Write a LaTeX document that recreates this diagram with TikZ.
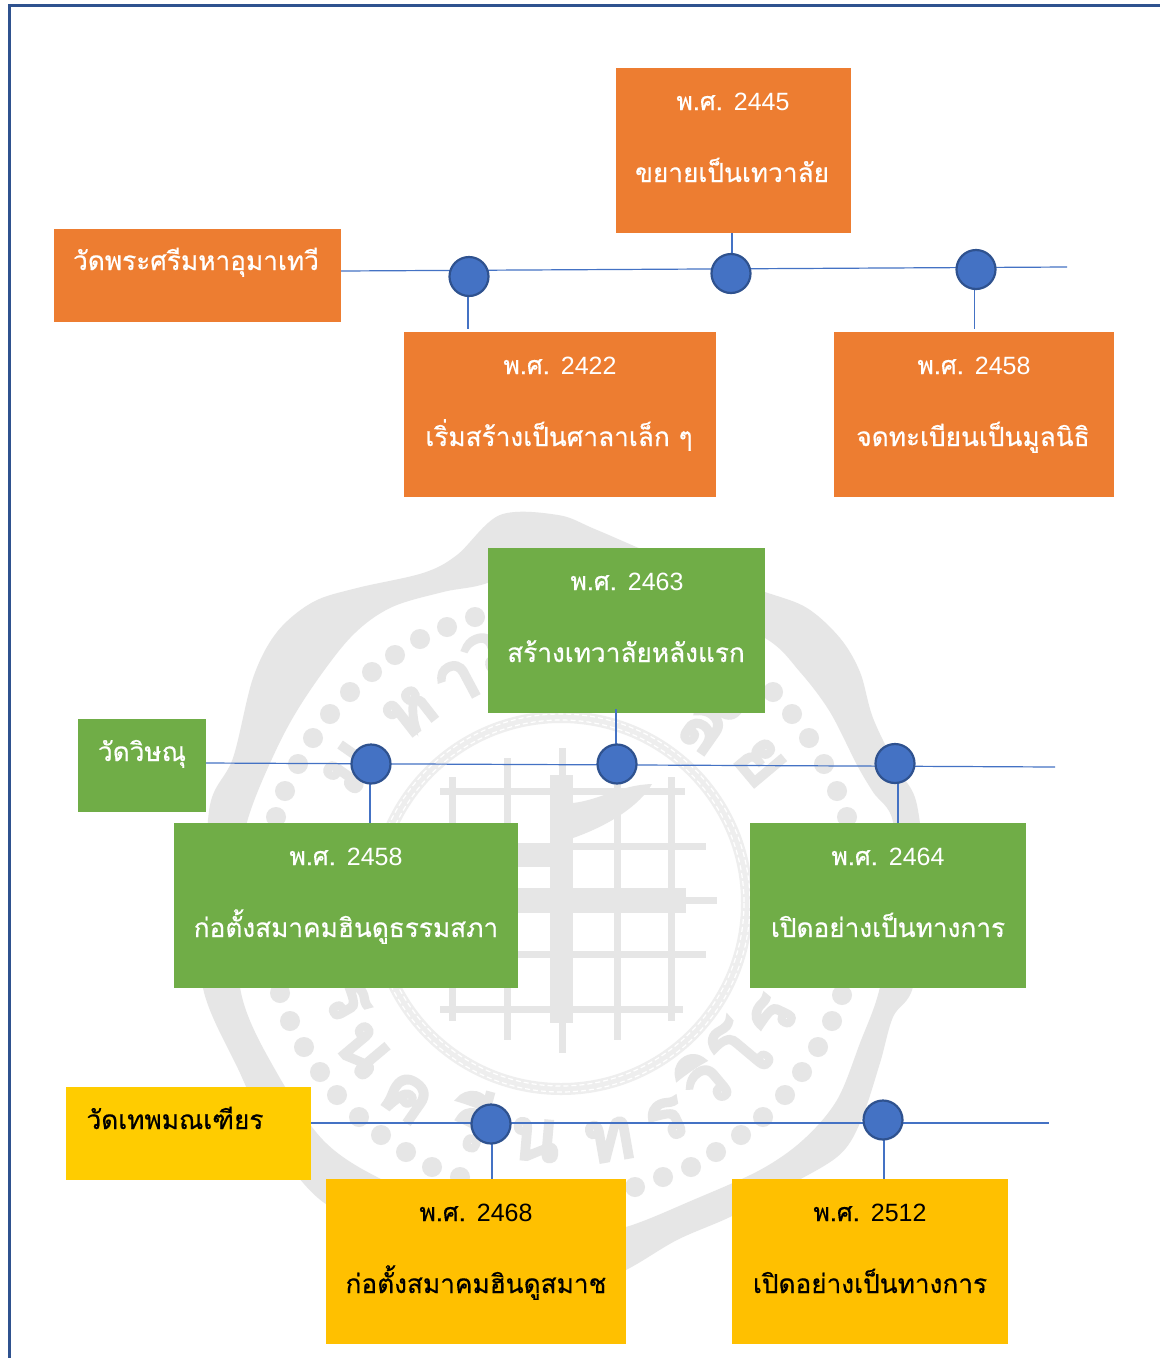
\documentclass[tikz,border=0pt]{standalone}
\usepackage{fontspec}
\setmainfont[Script=Thai,FakeBold=0.5]{Loma}
\newfontfamily\sealfont[Script=Thai,FakeBold=6]{Loma}
\newfontfamily\latn{Liberation Sans}
\newcommand{\yr}[1]{พ.ศ. {\latn #1}}
\pgfdeclarelayer{wm}
\pgfdeclarelayer{front}
\pgfsetlayers{wm,main,front}
\definecolor{orangeF}{HTML}{ED7D31}
\definecolor{greenF}{HTML}{70AD47}
\definecolor{yellowA}{HTML}{FFCC00}
\definecolor{yellowB}{HTML}{FFC000}
\definecolor{blueF}{HTML}{4472C4}
\definecolor{blueD}{HTML}{2F528F}
\definecolor{wmark}{HTML}{E6E6E6}
\definecolor{wrope}{HTML}{EEEEEE}
\tikzset{
  boxbase/.style={rectangle,inner sep=0pt,outer sep=0pt},
  orbox/.style={boxbase,fill=orangeF},
  grbox/.style={boxbase,fill=greenF},
  yabox/.style={boxbase,fill=yellowA},
  ybbox/.style={boxbase,fill=yellowB},
  dotnode/.style={circle,fill=blueF,draw=blueD,line width=2.2pt,minimum size=39pt,inner sep=0pt,outer sep=0pt},
  conn/.style={draw=blueF,line width=1.2pt},
  wtxt/.style={text=white,font=\fontsize{26.2}{28}\selectfont,inner sep=0pt,anchor=base},
  ktxt/.style={text=black,font=\fontsize{26.2}{28}\selectfont,inner sep=0pt,anchor=base},
  wyear/.style={text=white,font=\fontsize{25}{28}\selectfont,inner sep=0pt,anchor=base},
  kyear/.style={text=black,font=\fontsize{25}{28}\selectfont,inner sep=0pt,anchor=base},
  seal/.style={text=wmark,font=\fontsize{70}{70}\selectfont\sealfont,inner sep=0pt},
  frameline/.style={draw=blueD,line width=3pt}
}
\begin{document}
\begin{tikzpicture}[x=1pt,y=-1pt]
\useasboundingbox (0,0) rectangle (1160,1358);
\begin{pgfonlayer}{wm}
\fill[white] (0,0) rectangle (1160,1358);
% outer scalloped band
\fill[wmark,even odd rule]
  plot[smooth cycle,tension=0.55] coordinates {(500,515) (558,515) (597,530) (680,565) (765,592) (807,608) (840,638) (860,672) (873,718) (897,768) (917,805) (925,900) (913,987) (893,1017) (880,1063) (860,1123) (837,1157) (780,1190) (730,1217) (677,1240) (626,1270) (560,1300) (480,1280) (400,1235) (323,1202) (272,1140) (240,1073) (203,988) (205,900) (210,805) (233,758) (253,678) (277,632) (313,602) (357,588) (423,573) (457,555)}
  plot[smooth cycle,tension=0.55] coordinates {(555,548) (490,582) (443,592) (390,608) (350,638) (307,695) (277,748) (247,822) (235,900) (242,997) (277,1073) (323,1140) (377,1177) (450,1205) (560,1240) (626,1227) (693,1200) (760,1170) (803,1140) (837,1100) (860,1043) (880,987) (893,900) (893,822) (873,792) (857,765) (830,712) (800,672) (765,638) (680,600) (620,575)};
% ring of dots
\foreach \px/\py in {475/617,447/627,420/639,395/655,372/672,350/692,330/714,313/738,298/764,285/791,276/817,773/692,792/714,809/738,824/764,837/791,847/817,280/993,290/1021,304/1047,320/1072,337/1095,359/1117,381/1135,406/1152,432/1167,460/1177,842/995,832/1021,818/1047,802/1072,785/1095,763/1117,741/1135,716/1152,691/1167,663/1177,635/1187}
  \fill[wmark] (\px,\py) circle[radius=10];
% rope ring
\draw[wrope,line width=12pt] (561,903) circle[radius=186];
\draw[white,line width=1.2pt,dash pattern=on 5pt off 3pt] (561,903) circle[radius=183];
\draw[white,line width=1.2pt,dash pattern=on 5pt off 3pt] (561,903) circle[radius=189];
% grid of the emblem
\foreach \gx/\gt/\gb in {452/777/1021,507/758/1040,562/748/1053,617/758/1040,671/777/1021}
  \draw[wmark,line width=7pt] (\gx,\gt) -- (\gx,\gb);
\foreach \gy/\gl/\gr in {791/440/685,846/480/706,900/480/717,954/480/706,1009/440/683}
  \draw[wmark,line width=7pt] (\gl,\gy) -- (\gr,\gy);
\fill[wmark] (550,775) rectangle (573,1023);
\fill[wmark] (480,888) rectangle (686,913);
\fill[wmark] (480,845) rectangle (550,867);
\fill[wmark] (573,803) .. controls (600,800) and (620,785) .. (652,784) .. controls (640,805) and (610,825) .. (573,838) -- cycle;
% seal lettering
\node[seal,rotate=22] (sl1) at (483,655) {ว};
\node[seal,rotate=28] (sl2) at (457,682) {า};
\node[seal,rotate=38] (sl3) at (410,712) {ห};
\node[seal,rotate=55] (sl4) at (350,768) {ม};
\node[seal,rotate=-35] (sl5) at (707,722) {ลั};
\node[seal,rotate=-50] (sl6) at (760,762) {ย};
\node[seal,rotate=-60] (sl7) at (347,1000) {ร};
\node[seal,rotate=-50] (sl8) at (363,1050) {น};
\node[seal,rotate=-35] (sl9) at (407,1097) {ค};
\node[seal,rotate=-15] (sl10) at (473,1120) {รี};
\node[seal,rotate=-5] (sl11) at (535,1140) {น};
\node[seal,rotate=10] (sl12) at (610,1140) {ท};
\node[seal,rotate=25] (sl13) at (667,1120) {ร};
\node[seal,rotate=40] (sl14) at (703,1080) {วิ};
\node[seal,rotate=50] (sl15) at (740,1050) {โ};
\node[seal,rotate=65] (sl16) at (773,1017) {ร};
\end{pgfonlayer}

% boxes
\node[orbox,minimum width=287pt,minimum height=93pt] (a0) at (197.5,275.5) {};
\node[orbox,minimum width=312pt,minimum height=165pt] (a1) at (560,414.5) {};
\node[orbox,minimum width=235pt,minimum height=165pt] (a2) at (733.5,150.5) {};
\node[orbox,minimum width=280pt,minimum height=165pt] (a3) at (974,414.5) {};
\node[grbox,minimum width=128pt,minimum height=93pt] (b0) at (142,765.5) {};
\node[grbox,minimum width=344pt,minimum height=165pt] (b1) at (346,905.5) {};
\node[grbox,minimum width=277pt,minimum height=165pt] (b2) at (626.5,630.5) {};
\node[grbox,minimum width=276pt,minimum height=165pt] (b3) at (888,905.5) {};
\node[yabox,minimum width=245pt,minimum height=93pt] (c0) at (188.5,1133.5) {};
\node[ybbox,minimum width=300pt,minimum height=165pt] (c1) at (476,1261.5) {};
\node[ybbox,minimum width=276pt,minimum height=165pt] (c2) at (870,1261.5) {};

% texts
\node[wtxt] (ta0) at (196,270) {วัดพระศรีมหาอุมาเทวี};
\node[wyear] (ta1y) at (560,374) {\yr{2422}};
\node[wtxt] (ta1) at (559,446) {เริ่มสร้างเป็นศาลาเล็ก ๆ};
\node[wyear] (ta2y) at (733,110) {\yr{2445}};
\node[wtxt] (ta2) at (732,182) {ขยายเป็นเทวาลัย};
\node[wyear] (ta3y) at (974,374) {\yr{2458}};
\node[wtxt] (ta3) at (973,446) {จดทะเบียนเป็นมูลนิธิ};
\node[wtxt] (tb0) at (142,761) {วัดวิษณุ};
\node[wyear] (tb1y) at (346,865) {\yr{2458}};
\node[wtxt] (tb1) at (346,937) {ก่อตั้งสมาคมฮินดูธรรมสภา};
\node[wyear] (tb2y) at (627,590) {\yr{2463}};
\node[wtxt] (tb2) at (626,662) {สร้างเทวาลัยหลังแรก};
\node[wyear] (tb3y) at (888,865) {\yr{2464}};
\node[wtxt] (tb3) at (888,937) {เปิดอย่างเป็นทางการ};
\node[ktxt] (tc0) at (175,1129) {วัดเทพมณเฑียร};
\node[kyear] (tc1y) at (476,1221) {\yr{2468}};
\node[ktxt] (tc1) at (476,1293) {ก่อตั้งสมาคมฮินดูสมาช};
\node[kyear] (tc2y) at (870,1221) {\yr{2512}};
\node[ktxt] (tc2) at (870,1293) {เปิดอย่างเป็นทางการ};

% dots on the time lines
\begin{pgfonlayer}{front}
\node[dotnode] (p1) at (469,276.5) {};
\node[dotnode] (p2) at (731,273.5) {};
\node[dotnode] (p3) at (976,269.5) {};
\node[dotnode] (q1) at (371,764) {};
\node[dotnode] (q2) at (617,764) {};
\node[dotnode] (q3) at (895,763.5) {};
\node[dotnode] (r1) at (491,1124) {};
\node[dotnode] (r2) at (883,1120) {};
\end{pgfonlayer}

\coordinate (aend) at (1067,267);
\coordinate (bend) at (1055,767);
\coordinate (cend) at (1049,1123);

% time lines
\draw[conn] ([yshift=4.5pt]a0.east) -- ([yshift=6.2pt]p1.center);
\draw[conn] ([yshift=6.2pt]p1.center) -- ([yshift=4.65pt]p2.center);
\draw[conn] ([yshift=4.65pt]p2.center) -- ([yshift=2pt]p3.center);
\draw[conn] ([yshift=2pt]p3.center) -- (aend);
\draw[conn] ([yshift=2.5pt]b0.east) -- ([yshift=.2pt]q1.center);
\draw[conn] ([yshift=.2pt]q1.center) -- ([yshift=-.9pt]q2.center);
\draw[conn] ([yshift=-.9pt]q2.center) -- ([yshift=-2.7pt]q3.center);
\draw[conn] ([yshift=-2.7pt]q3.center) -- (bend);
\draw[conn] ([yshift=10.5pt]c0.east) -- ([yshift=1pt]r1.center);
\draw[conn] ([yshift=1pt]r1.center) -- ([yshift=-3pt]r2.center);
\draw[conn] ([yshift=-3pt]r2.center) -- (cend);

% stems
\draw[conn] ([xshift=-1pt]p1.center) -- ([xshift=-92pt,yshift=3pt]a1.north);
\draw[conn] ([xshift=-1.5pt]a2.south) -- ([xshift=1pt]p2.center);
\draw[conn] ([xshift=-1.5pt]p3.center) -- ([xshift=.5pt,yshift=3pt]a3.north);
\draw[conn] ([xshift=-1pt]q1.center) -- ([xshift=24pt]b1.north);
\draw[conn] ([xshift=-10.5pt,yshift=4pt]b2.south) -- ([xshift=-1pt]q2.center);
\draw[conn] ([xshift=3pt]q3.center) -- ([xshift=10pt]b3.north);
\draw[conn] ([xshift=1pt]r1.center) -- ([xshift=16pt]c1.north);
\draw[conn] ([xshift=1pt]r2.center) -- ([xshift=14pt]c2.north);

% page frame
\coordinate (fa) at (9,1358);
\coordinate (fb) at (9,5);
\coordinate (fc) at (1160,5);
\draw[frameline] (fa) -- (fb) -- (fc);
\end{tikzpicture}
\end{document}
